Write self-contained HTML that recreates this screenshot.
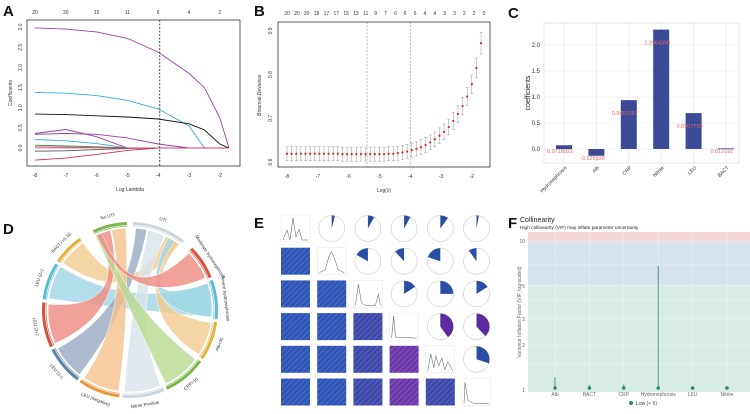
<!DOCTYPE html>
<html><head><meta charset="utf-8">
<style>
html,body{margin:0;padding:0;background:#fff;}
svg{display:block;font-family:"Liberation Sans",sans-serif;}
.pl{font-weight:bold;font-size:15px;fill:#111;}
.tk{font-size:5px;fill:#333;}
</style></head>
<body>
<svg id="fig" width="750" height="414" viewBox="0 0 750 414" xmlns="http://www.w3.org/2000/svg">
<defs>
<pattern id="hatch" width="4" height="4" patternUnits="userSpaceOnUse" patternTransform="rotate(45)">
<rect width="4" height="4" fill="none"/><line x1="0" y1="0" x2="0" y2="4" stroke="rgba(255,255,255,0.25)" stroke-width="1.2"/>
</pattern>
</defs>
<text class="pl" x="3" y="16">A</text>
<text class="pl" x="254" y="16">B</text>
<text class="pl" x="508" y="18">C</text>
<text class="pl" x="3" y="234">D</text>
<text class="pl" x="254" y="228">E</text>
<text class="pl" x="508" y="228">F</text>
<g id="gA"></g>
<g id="gB"></g>
<g id="gC"></g>
<g id="gD"></g>
<g id="gE"></g>
<g id="gF"></g>
</svg>
<script>
// ---- Panel A data ----
const lambdaA = [-8,-7,-6,-5,-4,-3,-2.5,-2,-1.7];
const coefPurple = [2.98,2.95,2.88,2.72,2.38,1.85,1.5,0.75,0];
const coefCyan = [1.38,1.36,1.30,1.18,0.97,0.55,0,0,0];
const coefBlack = [0.84,0.83,0.80,0.77,0.72,0.60,0.45,0.1,0];
const coefPurple2 = [0.36,0.46,0.28,0,0,0,0,0,0];
const coefPurple3 = [0.34,0.36,0.34,0.25,0.1,0,0,0,0];
const coefCyan2 = [0.21,0.18,0.11,0,0,0,0,0,0];
const coefRed = [-0.30,-0.25,-0.16,-0.06,0,0,0,0,0];
const coefGreen = [0.07,0.05,0.03,0,0,0,0,0,0];
const coefGray = [-0.08,-0.07,-0.04,-0.01,0,0,0,0,0];
const coefPink = [0.03,0.02,0.01,0,0,0,0,0,0];
const topTicksA = ["20","20","15","11","6","4","2"];
const xTicksA = [-8,-7,-6,-5,-4,-3,-2];
const yTicksA = ["0.0","0.5","1.0","1.5","2.0","2.5","3.0"];
// ---- Panel B data ----
const logLambdaB = [-8,-7.85,-7.7,-7.55,-7.4,-7.25,-7.1,-6.95,-6.8,-6.65,-6.5,-6.35,-6.2,-6.05,-5.9,-5.75,-5.6,-5.45,-5.3,-5.15,-5,-4.85,-4.7,-4.55,-4.4,-4.25,-4.1,-3.95,-3.8,-3.65,-3.5,-3.35,-3.2,-3.05,-2.9,-2.75,-2.6,-2.45,-2.3,-2.15,-2.0,-1.85,-1.7];
const devianceB = [0.619,0.619,0.619,0.619,0.619,0.619,0.619,0.619,0.619,0.619,0.619,0.619,0.618,0.618,0.618,0.618,0.618,0.618,0.618,0.618,0.618,0.618,0.619,0.619,0.620,0.622,0.624,0.627,0.630,0.634,0.639,0.645,0.652,0.660,0.669,0.680,0.694,0.710,0.728,0.750,0.778,0.815,0.872];
const errB = [0.016,0.016,0.016,0.016,0.016,0.016,0.016,0.016,0.016,0.016,0.016,0.016,0.016,0.016,0.016,0.016,0.016,0.016,0.016,0.016,0.016,0.016,0.016,0.016,0.016,0.016,0.016,0.016,0.016,0.017,0.017,0.017,0.017,0.018,0.018,0.018,0.019,0.019,0.02,0.02,0.021,0.022,0.025];
const topTicksB = ["20","20","20","18","17","17","15","13","11","9","7","6","6","6","4","4","3","3","2","2","0"];
const xTicksB = [-8,-7,-6,-5,-4,-3,-2];
const yTicksB = [0.6,0.7,0.8,0.9];
const vlinesB = [-5.4,-4.0];
// ---- Panel C data ----
const varsC = ["Hydronephrosis","Alb","CRP","Nitrite","LEU","BACT"];
const coefC = [0.0718922,-0.13,0.9401357,2.2964398,0.6907793,0.012191];
const labelsC = ["0.0718922","-0.125938","0.9401357","2.2964398","0.6907793","0.012191"];
const yTicksC = [0,0.5,1.0,1.5,2.0];
// ---- Panel D data ----
const sectorNames = ["UTI","Moderate hydronephrosis","Severe hydronephrosis","Alb<35","CRP>10","Nitrite Positive","LEU (Negative)","LEU (1+)","LEU (2+)","LEU (3+)","BACT>=5.1E","No UTI"];
const sectorStart = [2,45,70,98,126,157,187,217,245,277,304,335];
const sectorEnd = [38,68,96,124,155,185,215,243,275,302,325,358];
const sectorColors = ["#c9d6de","#d6503c","#5bbcd6","#e2b33c","#7ab648","#c9d6de","#e8963c","#5a7fa8","#d6503c","#5bbcd6","#e2b33c","#7ab648"];
const ribbonFrom = [[305,325],[278,302],[246,274],[218,242],[188,214],[158,184],[127,154],[99,123],[71,95],[46,67]];
const ribbonTo = [[26,37],[71,95],[339,346],[4,12],[347,357],[13,25],[335,339],[30,36],[28,33],[336,340]];
const ribbonColors = ["#f2c98e","#9fd6e6","#ef8a7e","#98a8bf","#f5c08c","#d9e2e8","#b8d98e","#f2c98e","#9fd6e6","#ef8a7e"];
// ---- Panel E data ----
const corrUpper = [[0,0.04,0.08,0.08,0.10,0.03],[0,0,0.17,0.12,0.20,0.10],[0,0,0,0.16,0.25,0.16],[0,0,0,0,0.40,0.38],[0,0,0,0,0,0.30]];
const corrLower = [[],[0.05],[0.06,0.08],[0.07,0.1,0.18],[0.08,0.1,0.18,0.38],[0.05,0.1,0.17,0.4,0.3]];
// ---- Panel F data ----
const varsF = ["Alb","BACT","CRP","Hydronephrosis","LEU","Nitrite"];
const vifF = [1.22,1.08,1.09,6.8,1.05,1.05];
const yTicksF = [1,2,3,5,10];

const NS="http://www.w3.org/2000/svg";
function mk(parent, tag, attrs, txt){const e=document.createElementNS(NS,tag);for(const k in attrs)e.setAttribute(k,attrs[k]);if(txt!==undefined)e.textContent=txt;parent.appendChild(e);return e;}
let el;

// ===== Panel A =====
const gA=document.getElementById('gA');
const xA=v=>35+(v+8)*30.8, yA=v=>148-v*40.3;
el=mk(gA,'rect',{x:27,y:20,width:213,height:146,fill:'none',stroke:'#333','stroke-width':0.8});


const seriesA=[[coefPurple,'#9b3fa0'],[coefCyan,'#3aaed0'],[coefBlack,'#111'],[coefPurple2,'#9b3fa0'],[coefPurple3,'#9b3fa0'],[coefCyan2,'#3aaed0'],[coefRed,'#d0304a'],[coefGreen,'#3a9a3a'],[coefGray,'#555'],[coefPink,'#d04a9a']];
seriesA.forEach((s,i)=>{
  let d='';
  lambdaA.forEach((x,j)=>{d+=(j?'L':'M')+xA(x).toFixed(1)+','+yA(s[0][j]).toFixed(1);});
  el=mk(gA,'path',{d:d,fill:'none',stroke:s[1],'stroke-width':0.9});
  
  
});
el=mk(gA,'line',{x1:xA(-1.7),y1:yA(0),x2:xA(-8),y2:yA(0),stroke:'#d0304a','stroke-width':0.6});


el=mk(gA,'line',{x1:xA(-3.95),y1:20,x2:xA(-3.95),y2:166,stroke:'#333','stroke-width':0.9,'stroke-dasharray':'2,1.5'});


xTicksA.forEach((v,i)=>{
  el=mk(gA,'text',{x:xA(v),y:177,'text-anchor':'middle',class:'tk'},String(v));
  
  
  el=mk(gA,'text',{x:xA(v),y:14,'text-anchor':'middle',class:'tk'},topTicksA[i]);
  
  
});
yTicksA.forEach(t=>{
  const y=yA(parseFloat(t));
  el=mk(gA,'text',{x:22,y:y,'text-anchor':'middle',class:'tk',transform:`rotate(-90 22 ${y})`},t);
  
  
});
el=mk(gA,'text',{x:130,y:191,'text-anchor':'middle',class:'tk'},'Log Lambda');


el=mk(gA,'text',{x:12,y:93,'text-anchor':'middle',class:'tk',transform:'rotate(-90 12 93)'},'Coefficients');



// ===== Panel B =====
const gB=document.getElementById('gB');
const xB=v=>287+(v+8)*30.8, yB=v=>162-(v-0.6)*437;
el=mk(gB,'rect',{x:278,y:22,width:212,height:145,fill:'none',stroke:'#333','stroke-width':0.8});


vlinesB.forEach(v=>{
  el=mk(gB,'line',{x1:xB(v),y1:22,x2:xB(v),y2:167,stroke:'#888','stroke-width':0.6,'stroke-dasharray':'2,1.5'});
  
  
});
logLambdaB.forEach((x,i)=>{
  const cx=xB(x),lo=yB(devianceB[i]-errB[i]),hi=yB(devianceB[i]+errB[i]);
  el=mk(gB,'path',{d:`M${cx},${lo}L${cx},${hi}M${cx-1.5},${lo}L${cx+1.5},${lo}M${cx-1.5},${hi}L${cx+1.5},${hi}`,stroke:'#999','stroke-width':0.5,fill:'none'});
  
  
  el=mk(gB,'circle',{cx:cx,cy:yB(devianceB[i]),r:1.1,fill:'#e02020'});
  
  
});
xTicksB.forEach(v=>{
  el=mk(gB,'text',{x:xB(v),y:178,'text-anchor':'middle',class:'tk'},String(v));
  
  
});
topTicksB.forEach((t,i)=>{
  el=mk(gB,'text',{x:287+i*(197/20),y:15,'text-anchor':'middle',class:'tk'},t);
  
  
});
yTicksB.forEach(v=>{
  const y=yB(v);
  el=mk(gB,'text',{x:272,y:y,'text-anchor':'middle',class:'tk',transform:`rotate(-90 272 ${y})`},v.toFixed(1));
  
  
});
el=mk(gB,'text',{x:384,y:192,'text-anchor':'middle',class:'tk'},'Log(λ)');


el=mk(gB,'text',{x:261,y:95,'text-anchor':'middle',class:'tk',transform:'rotate(-90 261 95)'},'Binomial Deviance');



// ===== Panel C =====
const gC=document.getElementById('gC');
const yC=v=>149-v*52, xC=i=>564+i*32.4;
el=mk(gC,'rect',{x:544,y:23,width:195,height:140,fill:'#fff',stroke:'#ccc','stroke-width':0.5});


yTicksC.forEach(v=>{
  el=mk(gC,'line',{x1:544,x2:739,y1:yC(v),y2:yC(v),stroke:'#e3e3e3','stroke-width':0.6});
  
  
  el=mk(gC,'text',{x:540,y:yC(v)+2,'text-anchor':'end',class:'tk',style:'font-size:6px'},v.toFixed(1));
  
  
});
varsC.forEach((n,i)=>{
  el=mk(gC,'line',{x1:xC(i),x2:xC(i),y1:23,y2:163,stroke:'#e3e3e3','stroke-width':0.6});
  
  
});
varsC.forEach((n,i)=>{
  const v=coefC[i];
  el=mk(gC,'rect',{x:xC(i)-8,y:Math.min(yC(v),yC(0)),width:16,height:Math.max(Math.abs(yC(v)-yC(0)),0.8),fill:'#3b4a96'});
  
  
  el=mk(gC,'text',{x:xC(i)-4,y:(v>=0.5?yC(v)+15:yC(Math.min(v,0))+4),'text-anchor':'middle',style:'font-size:5.5px;fill:#e06a6a'},labelsC[i]);
  
  
  el=mk(gC,'text',{x:xC(i)+3,y:168,'text-anchor':'end',class:'tk',transform:`rotate(-45 ${xC(i)+3} 168)`},n);
  
  
});
el=mk(gC,'text',{x:530,y:93,'text-anchor':'middle',style:'font-size:7px;fill:#222',transform:'rotate(-90 530 93)'},'coefficients');



// ===== Panel D =====
const gD=document.getElementById('gD');
const cxD=130,cyD=310,rD=82;
const pt=(a,r)=>{const t=(a-90)*Math.PI/180;return [cxD+r*Math.cos(t),cyD+r*Math.sin(t)];};
ribbonFrom.forEach((f,i)=>{
  const t=ribbonTo[i];
  const a1=pt(f[0],rD),a2=pt(f[1],rD),b1=pt(t[0],rD),b2=pt(t[1],rD);
  const d=`M${a1}A${rD},${rD} 0 0 1 ${a2}Q${cxD},${cyD} ${b1}A${rD},${rD} 0 0 1 ${b2}Q${cxD},${cyD} ${a1}Z`;
  el=mk(gD,'path',{d:d,fill:ribbonColors[i],'fill-opacity':0.8,stroke:'#fff','stroke-width':0.5});
  
  
});
sectorNames.forEach((n,i)=>{
  const s=sectorStart[i],e=sectorEnd[i];
  const o1=pt(s,88),o2=pt(e,88),i1=pt(s,85),i2=pt(e,85);
  const lg=(e-s)>180?1:0;
  el=mk(gD,'path',{d:`M${o1}A88,88 0 ${lg} 1 ${o2}L${i2}A85,85 0 ${lg} 0 ${i1}Z`,fill:sectorColors[i]});
  
  
  const p1=pt(s,84),p2=pt(e,84);
  el=mk(gD,'path',{d:`M${p1}A84,84 0 0 1 ${p2}`,fill:'none',stroke:sectorColors[i],'stroke-width':0.6});
  
  
  const m=(s+e)/2,lp=pt(m,96);
  let rot=m; if(m>90&&m<270) rot=m+180;
  el=mk(gD,'text',{x:lp[0],y:lp[1],'text-anchor':'middle','dominant-baseline':'middle',style:'font-size:4.5px;fill:#333',transform:`rotate(${rot} ${lp[0]} ${lp[1]})`},n);
  
  
});

// ===== Panel E =====
const gE=document.getElementById('gE');
const ex=j=>281+j*36.2, ey=i=>215+i*32.7, cw=29, ch=27;
function lowColor(v){return v>0.3?'#6a37ab':(v>0.15?'#3c48aa':'#2e54b8');}
function pieColor(v){return v>0.3?'#5e2aa0':'#2a4ea6';}
for(let i=0;i<6;i++)for(let j=0;j<6;j++){
  const x=ex(j),y=ey(i);
  if(i===j){
    el=mk(gE,'rect',{x:x,y:y,width:cw,height:ch,fill:'#fff',stroke:'#ddd','stroke-width':0.4});
    
    
    const shapes=['M2,25 L6,15 L9,25 L12,3 L15,22 L18,14 L21,25 L27,25','M2,25 L8,22 L12,8 L14,4 L17,10 L21,22 L27,25','M2,25 L5,4 L8,22 L12,25 L22,25 L25,14 L27,25','M2,25 L4,3 L6,24 L27,25','M2,25 L5,8 L8,22 L10,10 L13,20 L16,12 L19,24 L22,16 L27,25','M2,25 L3,4 L6,22 L12,25 L27,25'];
    el=mk(gE,'path',{d:shapes[i],transform:`translate(${x},${y})`,fill:'none',stroke:'#555','stroke-width':0.5});
    
    
  } else if(j>i){
    const v=corrUpper[i][j],cx=x+cw/2,cy=y+ch/2,r=13;
    el=mk(gE,'circle',{cx:cx,cy:cy,r:r,fill:'#fff',stroke:'#bbb','stroke-width':0.5});
    
    
    const a=v*360, t=(a-90)*Math.PI/180;
    const sweepDir = (i===1)?0:1;
    const ex2=cx+(sweepDir?1:-1)*r*Math.sin(a*Math.PI/180), ey2=cy-r*Math.cos(a*Math.PI/180);
    el=mk(gE,'path',{d:`M${cx},${cy}L${cx},${cy-r}A${r},${r} 0 ${a>180?1:0} ${sweepDir} ${ex2},${ey2}Z`,fill:pieColor(v)});
    
    
  } else {
    const v=corrLower[i][j];
    el=mk(gE,'rect',{x:x,y:y,width:cw,height:ch,fill:lowColor(v)});
    
    
    el=mk(gE,'rect',{x:x,y:y,width:cw,height:ch,fill:'url(#hatch)'});
    
    
  }
}

// ===== Panel F =====
const gF=document.getElementById('gF');
const yF=v=>390-Math.log10(v)*149, xF=i=>555+i*34.4;
el=mk(gF,'text',{x:520,y:222,style:'font-size:7px;fill:#222'},'Collinearity');


el=mk(gF,'text',{x:520,y:229,style:'font-size:4.8px;fill:#222'},'High collinearity (VIF) may inflate parameter uncertainty');


el=mk(gF,'rect',{x:528,y:232,width:222,height:yF(10)-232,fill:'#f5d5d6'});


el=mk(gF,'rect',{x:528,y:yF(10),width:222,height:yF(5)-yF(10),fill:'#d6e2ec'});


el=mk(gF,'rect',{x:528,y:yF(5),width:222,height:392-yF(5),fill:'#d7ece3'});


[1.5,2,3,4,5,7,10].forEach(v=>{
  el=mk(gF,'line',{x1:528,x2:750,y1:yF(v),y2:yF(v),stroke:'#fff','stroke-opacity':0.6,'stroke-width':0.5});
  
  
});
yTicksF.forEach(v=>{
  el=mk(gF,'text',{x:525,y:yF(v)+2,'text-anchor':'end',style:'font-size:5px;fill:#666'},String(v));
  
  
});
varsF.forEach((n,i)=>{
  el=mk(gF,'line',{x1:xF(i),x2:xF(i),y1:232,y2:392,stroke:'#fff','stroke-opacity':0.6,'stroke-width':0.5});
  
  
  el=mk(gF,'line',{x1:xF(i),x2:xF(i),y1:yF(1),y2:yF(vifF[i]),stroke:'#2e8a6c','stroke-width':0.8});
  
  
  el=mk(gF,'circle',{cx:xF(i),cy:yF(1)-2,r:1.8,fill:'#2e8a6c'});
  
  
  el=mk(gF,'text',{x:xF(i),y:396,'text-anchor':'middle',style:'font-size:5px;fill:#666'},n);
  
  
});
el=mk(gF,'text',{x:521,y:312,'text-anchor':'middle',style:'font-size:5px;fill:#666',transform:'rotate(-90 521 312)'},'Variance Inflation Factor (VIF, log-scaled)');


el=mk(gF,'circle',{cx:631,cy:403,r:2,fill:'#2e8a6c'});


el=mk(gF,'text',{x:636,y:405,style:'font-size:5px;fill:#444'},'Low (< 5)');


</script>
</body></html>
